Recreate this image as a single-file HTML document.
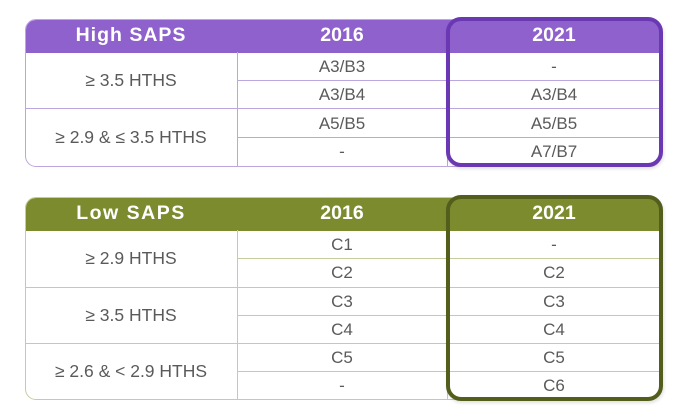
<!DOCTYPE html>
<html>
<head>
<meta charset="utf-8">
<style>
  html,body{margin:0;padding:0;background:#fff;}
  body{width:690px;height:411px;position:relative;overflow:hidden;font-family:"Liberation Sans",Arial,sans-serif;}
  .tbl{position:absolute;left:25px;width:636px;box-sizing:border-box;border-radius:11px;overflow:hidden;background:#fff;}
  .hdr{position:absolute;left:0;top:0;width:100%;height:33px;}
  .ht{position:absolute;top:0;height:33px;line-height:33px;text-align:center;color:#fff;font-weight:bold;font-size:19.5px;}
  .cell{position:absolute;text-align:center;color:#5a5a5a;font-size:17px;}
  .lab{position:absolute;text-align:center;color:#5a5a5a;font-size:17.5px;}
  .hl{position:absolute;height:1px;}
  .vl{position:absolute;width:1px;}
  .box{position:absolute;left:446px;width:217px;box-sizing:border-box;border:4px solid;border-radius:15px;}
</style>
</head>
<body>

<!-- HIGH SAPS -->
<div class="tbl" style="top:19px;height:148px;border:1px solid #bba6e0;">
  <div class="hdr" style="background:#8f61cc;"></div>
</div>
<div class="ht" style="left:25px;width:212px;top:19px;letter-spacing:1px;">High SAPS</div>
<div class="ht" style="left:237px;width:210px;top:19px;">2016</div>
<div class="ht" style="left:447px;width:214px;top:19px;">2021</div>

<div class="vl" style="left:237px;top:52px;height:114px;background:#bba6e0;"></div>
<div class="vl" style="left:447px;top:52px;height:114px;background:#bba6e0;"></div>
<div class="hl" style="left:237px;width:423px;top:80px;background:#bba6e0;"></div>
<div class="hl" style="left:25px;width:635px;top:108px;background:#bba6e0;"></div>
<div class="hl" style="left:237px;width:423px;top:137px;background:#bba6e0;"></div>

<div class="lab" style="left:25px;width:212px;top:70px;">≥ 3.5 HTHS</div>
<div class="lab" style="left:25px;width:212px;top:127px;">≥ 2.9 &amp; ≤ 3.5 HTHS</div>

<div class="cell" style="left:237px;width:210px;top:57px;">A3/B3</div>
<div class="cell" style="left:237px;width:210px;top:85px;">A3/B4</div>
<div class="cell" style="left:237px;width:210px;top:114px;">A5/B5</div>
<div class="cell" style="left:237px;width:210px;top:142px;">-</div>

<div class="cell" style="left:447px;width:214px;top:57px;">-</div>
<div class="cell" style="left:447px;width:214px;top:85px;">A3/B4</div>
<div class="cell" style="left:447px;width:214px;top:114px;">A5/B5</div>
<div class="cell" style="left:447px;width:214px;top:142px;">A7/B7</div>

<div class="box" style="top:17px;height:150px;border-color:#6a38b2;box-shadow:1px 2px 3px rgba(0,0,0,0.12);"></div>

<!-- LOW SAPS -->
<div class="tbl" style="top:197px;height:203px;border:1px solid #c6cc9e;">
  <div class="hdr" style="background:#7d8b2f;"></div>
</div>
<div class="ht" style="left:25px;width:212px;top:197px;letter-spacing:1.5px;">Low SAPS</div>
<div class="ht" style="left:237px;width:210px;top:197px;">2016</div>
<div class="ht" style="left:447px;width:214px;top:197px;">2021</div>

<div class="vl" style="left:237px;top:230px;height:169px;background:#c6cc9e;"></div>
<div class="vl" style="left:447px;top:230px;height:169px;background:#c6cc9e;"></div>
<div class="hl" style="left:237px;width:423px;top:258px;background:#c6cc9e;"></div>
<div class="hl" style="left:25px;width:635px;top:287px;background:#c6cc9e;"></div>
<div class="hl" style="left:237px;width:423px;top:315px;background:#c6cc9e;"></div>
<div class="hl" style="left:25px;width:635px;top:343px;background:#c6cc9e;"></div>
<div class="hl" style="left:237px;width:423px;top:371px;background:#c6cc9e;"></div>

<div class="lab" style="left:25px;width:212px;top:248px;">≥ 2.9 HTHS</div>
<div class="lab" style="left:25px;width:212px;top:305px;">≥ 3.5 HTHS</div>
<div class="lab" style="left:25px;width:212px;top:361px;">≥ 2.6 &amp; &lt; 2.9 HTHS</div>

<div class="cell" style="left:237px;width:210px;top:235px;">C1</div>
<div class="cell" style="left:237px;width:210px;top:263px;">C2</div>
<div class="cell" style="left:237px;width:210px;top:292px;">C3</div>
<div class="cell" style="left:237px;width:210px;top:320px;">C4</div>
<div class="cell" style="left:237px;width:210px;top:348px;">C5</div>
<div class="cell" style="left:237px;width:210px;top:376px;">-</div>

<div class="cell" style="left:447px;width:214px;top:235px;">-</div>
<div class="cell" style="left:447px;width:214px;top:263px;">C2</div>
<div class="cell" style="left:447px;width:214px;top:292px;">C3</div>
<div class="cell" style="left:447px;width:214px;top:320px;">C4</div>
<div class="cell" style="left:447px;width:214px;top:348px;">C5</div>
<div class="cell" style="left:447px;width:214px;top:376px;">C6</div>

<div class="box" style="top:195px;height:206px;border-color:#535e1c;box-shadow:1px 2px 3px rgba(0,0,0,0.12);"></div>

</body>
</html>
